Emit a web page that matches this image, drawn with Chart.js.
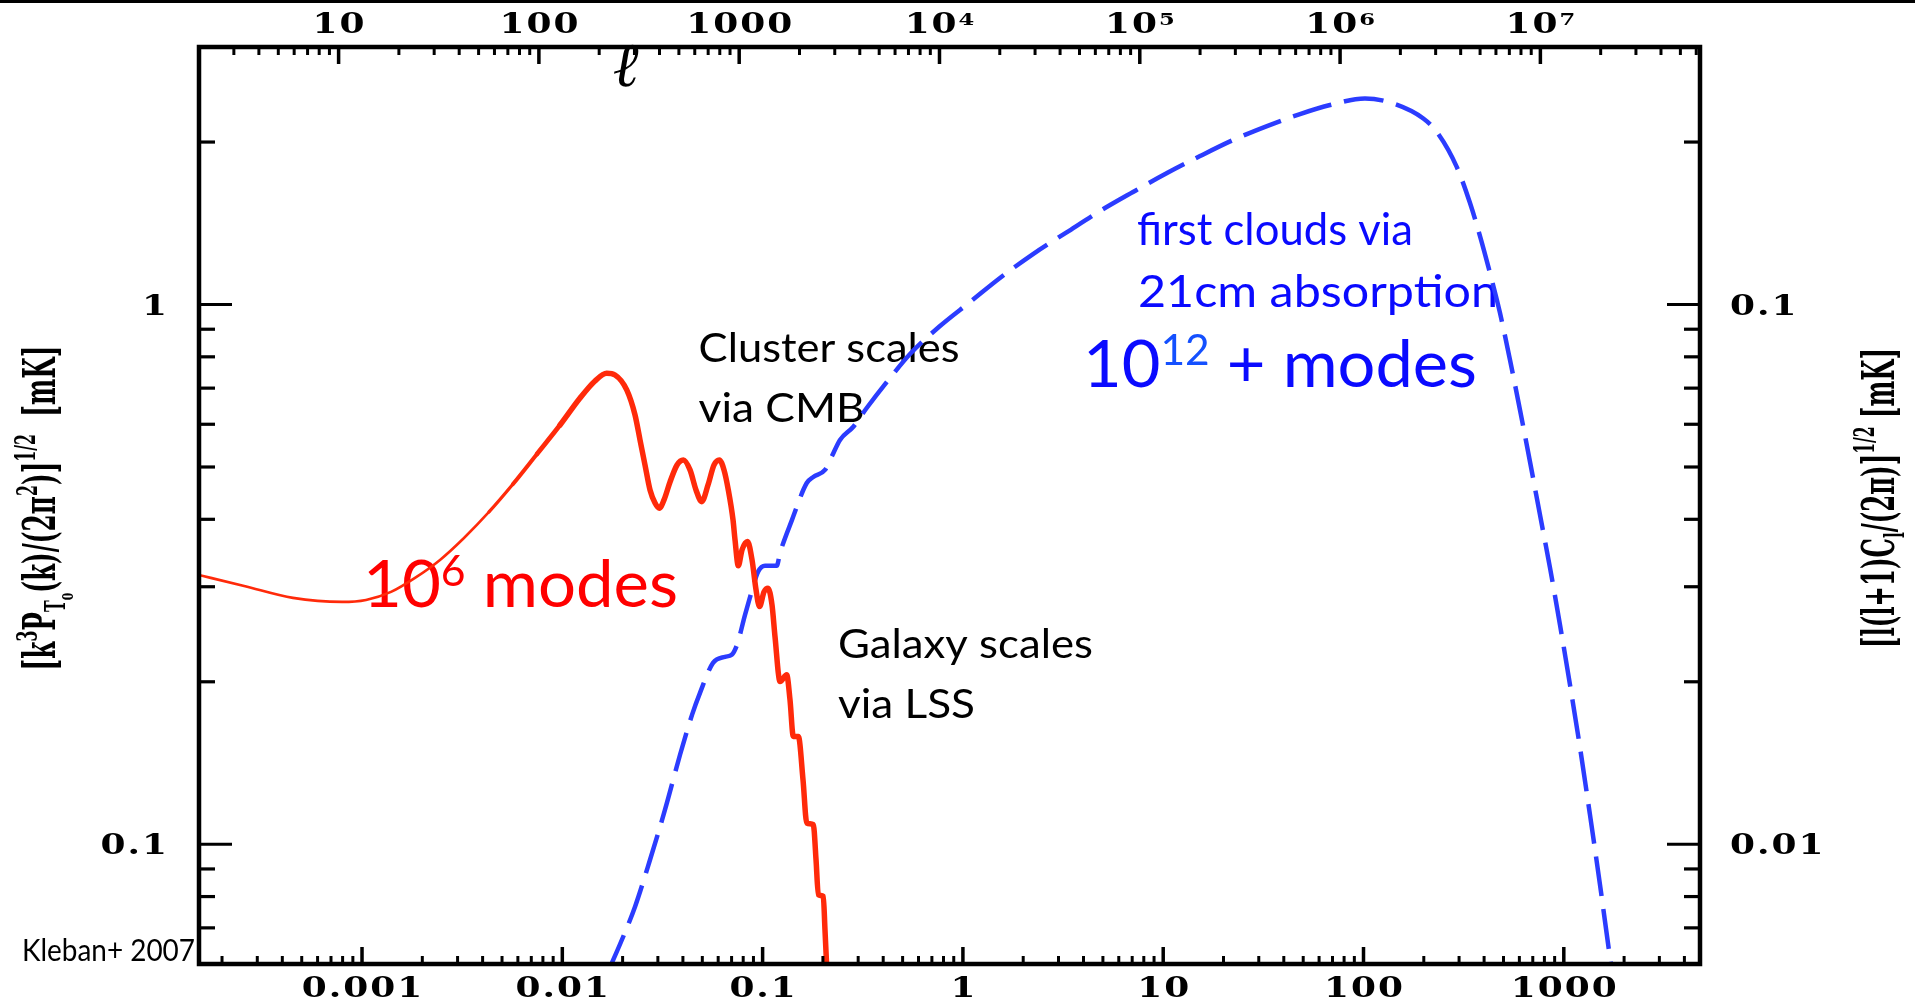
<!DOCTYPE html>
<html>
<head>
<meta charset="utf-8">
<script src="https://cdn.jsdelivr.net/npm/chart.js@4/dist/chart.umd.min.js"></script>
<style>
  html, body { margin: 0; padding: 0; background: #fff; overflow: hidden; }
  canvas { display: block; }
</style>
</head>
<body>
<canvas id="c" width="1915" height="1002"></canvas>
<script>
// CMB + large-scale-structure temperature amplitude vs wavenumber k
const kCmbLss = [1.45e-4, 2.58e-4, 4.52e-4, 7.95e-4, 1.047e-3, 1.396e-3, 1.839e-3, 2.451e-3, 3.229e-3, 4.305e-3,
  5.673e-3, 7.476e-3, 9.739e-3, 0.01226, 0.01456, 0.01666, 0.01833, 0.02097, 0.02307, 0.02443,
  0.02587, 0.02741, 0.02903, 0.0305, 0.03219, 0.03449, 0.03738, 0.04018, 0.04341, 0.0465,
  0.04966, 0.05339, 0.05721, 0.06078, 0.06416, 0.06742, 0.07116, 0.07282, 0.07563, 0.07892,
  0.08407, 0.08855, 0.09271, 0.09649, 0.1016, 0.1064, 0.1114, 0.1153, 0.1222, 0.1319,
  0.137, 0.1423, 0.1508, 0.1591, 0.1661, 0.1791, 0.1848, 0.1897, 0.2009, 0.2048, 0.2095];
const tCmbLss = [0.317, 0.301, 0.2861, 0.2812, 0.2836, 0.2935, 0.3116, 0.3364, 0.3694, 0.4128,
  0.465, 0.5286, 0.598, 0.6711, 0.7218, 0.7459, 0.7404, 0.6946, 0.6241, 0.5612,
  0.5044, 0.4533, 0.4289, 0.4194, 0.4345, 0.469, 0.5044, 0.5153, 0.4938, 0.4533,
  0.4313, 0.4631, 0.5044, 0.5153, 0.4938, 0.4533, 0.399, 0.3664, 0.328, 0.351,
  0.3637, 0.3364, 0.2961, 0.2756, 0.2935, 0.2982, 0.2776, 0.2425, 0.2002, 0.206,
  0.1852, 0.1584, 0.1584, 0.1317, 0.1095, 0.1087, 0.09361, 0.08062, 0.08003, 0.06945, 0.058];

// 21cm absorption amplitude from the first clouds
const k21cm = [0.0169, 0.02033, 0.02307, 0.02741, 0.03256, 0.0387, 0.04442, 0.04869, 0.05655, 0.06491,
  0.07012, 0.07452, 0.08169, 0.08956, 0.09484, 0.1028, 0.1176, 0.1222, 0.1402, 0.1661,
  0.1791, 0.2048, 0.2213, 0.2434, 0.2837, 0.3309, 0.4326, 0.5444, 0.7686, 1.085,
  1.531, 2.239, 3.309, 4.836, 7.067, 10.45, 15.27, 22.31, 32.98, 48.19,
  68.06, 101.7, 140.8, 198.9, 232.1, 292.0, 340.2, 381.6, 428.1, 480.3,
  538.8, 604.4, 678.3, 760.6, 853.4, 957.2, 1074, 1205, 1351, 1516, 1701, 1760];
const t21cm = [0.058, 0.068, 0.07661, 0.09361, 0.1159, 0.1465, 0.1737, 0.1908, 0.2168, 0.2225,
  0.2244, 0.2342, 0.2661, 0.2998, 0.3196, 0.328, 0.328, 0.3466, 0.399, 0.467,
  0.4791, 0.4938, 0.5226, 0.5612, 0.5937, 0.6431, 0.7309, 0.8097, 0.9124, 1.0107,
  1.1196, 1.2404, 1.3622, 1.49, 1.616, 1.7522, 1.8836, 2.0168, 2.1408, 2.2532,
  2.3419, 2.409, 2.358, 2.212, 2.089, 1.799, 1.5417, 1.3394, 1.1437, 0.9644,
  0.7892, 0.6377, 0.5108, 0.4075, 0.3251, 0.255, 0.1974, 0.151, 0.1134, 0.08414, 0.06163, 0.05658];

// Axis ranges
const kRange = [1.535e-4, 4786];
const ampRange = [0.06, 3];
const ellPerK = 13090;          // multipole l corresponding to k = 1
const rightAxisFactor = 0.1;    // right-hand amplitude scale relative to the left

// Tick labels
const bottomTickValues = [0.001, 0.01, 0.1, 1, 10, 100, 1000];
const bottomTickLabels = ['0.001', '0.01', '0.1', '1', '10', '100', '1000'];
const topTickValues = [10, 100, 1000, 1e4, 1e5, 1e6, 1e7];
const topTickLabels = [['10', ''], ['100', ''], ['1000', ''], ['10', '4'], ['10', '5'], ['10', '6'], ['10', '7']];
const leftTickValues = [1, 0.1];
const leftTickLabels = ['1', '0.1'];
const rightTickValues = [0.1, 0.01];
const rightTickLabels = ['0.1', '0.01'];

const SERIF = '"DejaVu Serif", serif';
const SANS = 'Lato, "Open Sans", sans-serif';

function runWidth(ctx, parts, sx, sp) {
  let w = 0, n = 0;
  for (const p of parts) {
    ctx.font = p.font;
    if (sp === 0) { w += ctx.measureText(p.t).width * sx; n += 1; }
    else for (const ch of p.t) { w += ctx.measureText(ch).width * sx; n++; }
  }
  return w + (sp ? Math.max(0, n - 1) * sp : 0);
}

function drawRun(ctx, parts, x, y, o) {
  const sx = o.sx ?? 1, sp = o.sp ?? 0;
  const w = runWidth(ctx, parts, sx, sp);
  let cx = o.align === 'center' ? x - w / 2 : o.align === 'right' ? x - w : x;
  for (const p of parts) {
    ctx.font = p.font;
    ctx.fillStyle = p.color || o.color || '#000';
    const pieces = sp === 0 ? [p.t] : Array.from(p.t);
    for (const s of pieces) {
      const cw = ctx.measureText(s).width * sx;
      ctx.save();
      ctx.translate(cx, y + (p.dy || 0));
      ctx.scale(sx, 1);
      ctx.fillText(s, 0, 0);
      ctx.restore();
      cx += cw + sp;
    }
  }
  return w;
}

function drawFit(ctx, parts, x, y, width, color) {
  const sx = width / runWidth(ctx, parts, 1, 0);
  drawRun(ctx, parts, x, y, { sx, color });
}

function drawTitle(ctx, parts, cx, cy, len, perp) {
  ctx.save();
  ctx.translate(cx, cy);
  ctx.rotate(-Math.PI / 2);
  ctx.scale(1, perp);
  const sx = len / runWidth(ctx, parts, 1, 0);
  drawRun(ctx, parts, 0, 7, { sx, align: 'center' });
  ctx.restore();
}

function logTicks(min, max) {
  const out = [];
  for (let e = Math.floor(Math.log10(min)); e <= Math.ceil(Math.log10(max)); e++) {
    for (let m = 1; m < 10; m++) {
      const v = m * Math.pow(10, e);
      if (v > min * 1.0001 && v < max * 0.9999) out.push({ v, major: m === 1 });
    }
  }
  return out;
}

const tickFont = 'bold 27px ' + SERIF;
const expFont = 'bold 17px ' + SERIF;
const TICK_SX = 1.33, TICK_SP = 2;

// Annotation texts, drawn underneath the curves
const annotations = {
  id: 'annotations',
  beforeDatasetsDraw(chart) {
    const ctx = chart.ctx;
    ctx.save();
    ctx.textBaseline = 'alphabetic';
    const black = '40px ' + SANS, blue = '44px ' + SANS, big = '66px ' + SANS, sup = '42px ' + SANS;
    drawFit(ctx, [{ t: 'Cluster scales', font: black }], 698.6, 361.7, 261, '#000');
    drawFit(ctx, [{ t: 'via CMB', font: black }], 698.6, 421.7, 166, '#000');
    drawFit(ctx, [{ t: 'Galaxy scales', font: black }], 838, 658, 255, '#000');
    drawFit(ctx, [{ t: 'via LSS', font: black }], 838, 718, 137, '#000');
    drawFit(ctx, [{ t: 'first clouds via', font: blue }], 1137, 245, 276, '#0a0aff');
    drawFit(ctx, [{ t: '21cm absorption', font: blue }], 1138, 306.7, 360, '#0a0aff');
    drawFit(ctx, [{ t: '10', font: big }, { t: '12', font: sup, dy: -22, color: '#1450ff' }, { t: ' + modes', font: big }],
      1083, 386.7, 394, '#0a0aff');
    drawFit(ctx, [{ t: '10', font: big }, { t: '6', font: sup, dy: -21 }, { t: ' modes', font: big }],
      363, 607, 315, '#ff0000');
    drawFit(ctx, [{ t: 'Kleban+ 2007', font: '30px ' + SANS }], 22, 961, 173, '#000');
    ctx.restore();
  }
};

// Boxed frame with inward log ticks on all four sides, tick labels and axis titles
const frame = {
  id: 'frame',
  afterDatasetsDraw(chart) {
    const { ctx, chartArea: a, scales } = chart;
    ctx.save();
    ctx.fillStyle = '#000';
    ctx.fillRect(0, 0, chart.width, 3);

    ctx.strokeStyle = '#000';
    ctx.lineCap = 'butt';
    const tick = (x1, y1, x2, y2, w) => { ctx.lineWidth = w; ctx.beginPath(); ctx.moveTo(x1, y1); ctx.lineTo(x2, y2); ctx.stroke(); };

    for (const t of logTicks(scales.x.min, scales.x.max)) {
      const px = scales.x.getPixelForValue(t.v);
      tick(px, a.bottom, px, a.bottom - (t.major ? 17 : 8), t.major ? 3.5 : 3);
    }
    for (const t of logTicks(scales.ell.min, scales.ell.max)) {
      const px = scales.ell.getPixelForValue(t.v);
      tick(px, a.top, px, a.top + (t.major ? 17 : 8), t.major ? 3.5 : 3);
    }
    for (const t of logTicks(scales.y.min, scales.y.max)) {
      const py = scales.y.getPixelForValue(t.v);
      tick(a.left, py, a.left + (t.major ? 33 : 16), py, 3.2);
    }
    for (const t of logTicks(scales.yRight.min, scales.yRight.max)) {
      const py = scales.yRight.getPixelForValue(t.v);
      tick(a.right, py, a.right - (t.major ? 33 : 16), py, 3.2);
    }

    ctx.lineWidth = 4.5;
    ctx.lineJoin = 'miter';
    ctx.strokeRect(a.left, a.top, a.right - a.left, a.bottom - a.top);

    ctx.textBaseline = 'alphabetic';
    bottomTickValues.forEach((v, i) => {
      drawRun(ctx, [{ t: bottomTickLabels[i], font: tickFont }], scales.x.getPixelForValue(v), 997,
        { sx: TICK_SX, sp: TICK_SP, align: 'center' });
    });
    topTickValues.forEach((v, i) => {
      const [base, exp] = topTickLabels[i];
      const parts = [{ t: base, font: tickFont }];
      if (exp) parts.push({ t: exp, font: expFont, dy: -8 });
      drawRun(ctx, parts, scales.ell.getPixelForValue(v), 33, { sx: TICK_SX, sp: TICK_SP, align: 'center' });
    });
    leftTickValues.forEach((v, i) => {
      drawRun(ctx, [{ t: leftTickLabels[i], font: tickFont }], 167, scales.y.getPixelForValue(v) + 10,
        { sx: TICK_SX, sp: TICK_SP, align: 'right' });
    });
    rightTickValues.forEach((v, i) => {
      drawRun(ctx, [{ t: rightTickLabels[i], font: tickFont }], 1730, scales.yRight.getPixelForValue(v) + 10,
        { sx: TICK_SX, sp: TICK_SP, align: 'left' });
    });

    // multipole symbol for the top axis
    ctx.font = 'italic bold 62px ' + SERIF;
    ctx.fillStyle = '#000';
    ctx.textAlign = 'center';
    ctx.fillText('\u2113', 627, 86);
    ctx.textAlign = 'left';

    const m = 'bold 22px ' + SERIF, s = 'bold 14px ' + SERIF, ss = 'bold 10px ' + SERIF;
    drawTitle(ctx, [
      { t: '[k', font: m }, { t: '3', font: s, dy: -9 }, { t: 'P', font: m },
      { t: 'T', font: s, dy: 5 }, { t: 'o', font: ss, dy: 9 },
      { t: '(k)/(2\u03c0', font: m }, { t: '2', font: s, dy: -9 }, { t: ')]', font: m },
      { t: '1/2', font: s, dy: -10 }, { t: '  [mK]', font: m }
    ], 41, 508, 325, 2.0);
    drawTitle(ctx, [
      { t: '[l(l+1)C', font: m }, { t: 'l', font: s, dy: 5 }, { t: '/(2\u03c0)]', font: m },
      { t: '1/2', font: s, dy: -10 }, { t: ' [mK]', font: m }
    ], 1880, 498, 300, 2.0);
    ctx.restore();
  }
};

const redWidth = i => (i < 9 ? 2.6 : i < 12 ? 2.6 + (i - 8) * 0.7 : 5.5);

new Chart(document.getElementById('c'), {
  type: 'line',
  data: {
    datasets: [
      {
        label: 'CMB + LSS',
        data: kCmbLss.map((k, i) => ({ x: k, y: tCmbLss[i] })),
        borderColor: '#ff2a0a',
        borderWidth: 5.5,
        pointRadius: 0,
        cubicInterpolationMode: 'monotone',
        borderCapStyle: 'round',
        borderJoinStyle: 'round',
        segment: { borderWidth: c => redWidth(c.p0DataIndex) }
      },
      {
        label: '21cm',
        data: k21cm.map((k, i) => ({ x: k, y: t21cm[i] })),
        borderColor: '#2b3cff',
        borderWidth: 4.5,
        borderDash: [40, 13],
        pointRadius: 0,
        cubicInterpolationMode: 'monotone'
      }
    ]
  },
  options: {
    responsive: false,
    animation: false,
    devicePixelRatio: 1,
    events: [],
    layout: { padding: { left: 199, right: 215, top: 47, bottom: 38 } },
    plugins: { legend: { display: false }, tooltip: { enabled: false } },
    scales: {
      x: { type: 'logarithmic', min: kRange[0], max: kRange[1], display: false },
      y: { type: 'logarithmic', min: ampRange[0], max: ampRange[1], display: false },
      ell: { type: 'logarithmic', axis: 'x', position: 'top', min: kRange[0] * ellPerK, max: kRange[1] * ellPerK, display: false },
      yRight: { type: 'logarithmic', axis: 'y', position: 'right', min: ampRange[0] * rightAxisFactor, max: ampRange[1] * rightAxisFactor, display: false }
    }
  },
  plugins: [annotations, frame]
});
</script>
</body>
</html>
